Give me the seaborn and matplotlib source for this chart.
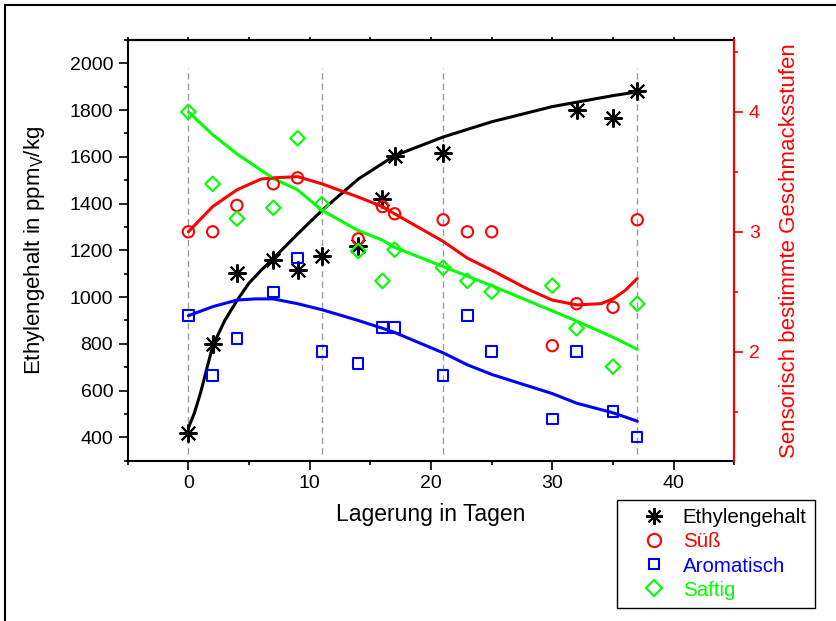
import matplotlib
matplotlib.use("Agg")
import matplotlib.pyplot as plt
from matplotlib.lines import Line2D
from matplotlib.ticker import MultipleLocator
import seaborn as sns

days_eth = [0, 2, 4, 7, 9, 11, 14, 16, 17, 21, 32, 35, 37]
ethylen = [420, 800, 1105, 1160, 1115, 1175, 1220, 1420, 1605, 1615, 1800, 1765, 1880]

days_suess = [0, 2, 4, 7, 9, 14, 16, 17, 21, 23, 25, 30, 32, 35, 37]
suess = [3.0, 3.0, 3.22, 3.40, 3.45, 2.94, 3.21, 3.15, 3.10, 3.0, 3.0, 2.05, 2.40, 2.37, 3.10]

days_arom = [0, 2, 4, 7, 9, 11, 14, 16, 17, 21, 23, 25, 30, 32, 35, 37]
arom = [2.30, 1.80, 2.11, 2.50, 2.78, 2.0, 1.90, 2.20, 2.20, 1.80, 2.30, 2.0, 1.44, 2.0, 1.50, 1.29]

days_saft = [0, 2, 4, 7, 9, 11, 14, 16, 17, 21, 23, 25, 30, 32, 35, 37]
saft = [4.0, 3.40, 3.11, 3.20, 3.78, 3.23, 2.84, 2.59, 2.85, 2.70, 2.59, 2.50, 2.55, 2.195, 1.875, 2.40]

# Ausgleichskurven
eth_fit_x = [0, 0.5, 1, 2, 3, 4, 5, 6, 7, 9, 11, 14, 17, 21, 25, 30, 35, 37]
eth_fit = [440, 505, 590, 790, 900, 985, 1060, 1115, 1165, 1270, 1370, 1505, 1605, 1685, 1750, 1815,
           1862, 1878]

suess_fit_x = [0, 2, 4, 6, 7, 9, 11, 14, 16, 17, 21, 23, 25, 28, 30, 32, 34, 35, 36, 37]
suess_fit = [3.0, 3.21, 3.35, 3.44, 3.45, 3.46, 3.40, 3.29, 3.21, 3.15, 2.92, 2.78, 2.68, 2.52,
             2.43, 2.39, 2.40, 2.44, 2.51, 2.61]

arom_fit_x = [0, 2, 4, 5.5, 7, 9, 11, 14, 16, 17, 21, 23, 25, 30, 32, 35, 37]
arom_fit = [2.30, 2.375, 2.43, 2.44, 2.44, 2.40, 2.35, 2.26, 2.195, 2.16, 1.99, 1.89, 1.81, 1.65,
            1.57, 1.49, 1.42]

saft_fit_x = [0, 2, 4, 7, 9, 11, 14, 16, 17, 21, 23, 25, 30, 32, 35, 37]
saft_fit = [4.0, 3.81, 3.65, 3.445, 3.35, 3.18, 3.01, 2.93, 2.87, 2.71, 2.63, 2.55, 2.34, 2.255, 2.12, 2.02]

vline_days = [0, 11, 21, 37]

labels = ['Ethylengehalt', 'Süß', 'Aromatisch', 'Saftig']
colors = ['black', 'red', 'blue', '#00ff00']

sns.set_style("ticks", rc={"axes.edgecolor": "black", "text.color": "black",
                           "axes.labelcolor": "black", "xtick.color": "black",
                           "ytick.color": "black"})
plt.rcParams['font.family'] = ['Liberation Sans', 'DejaVu Sans']
plt.rcParams['mathtext.fontset'] = 'custom'
plt.rcParams['mathtext.rm'] = 'Liberation Sans'
plt.rcParams['mathtext.it'] = 'Liberation Sans:italic'

fig = plt.figure(figsize=(8.37, 6.21), dpi=100)
ax = fig.add_axes([0.1526, 0.2581, 0.7247, 0.6775])
ax2 = ax.twinx()

ax.vlines(vline_days, 330, 1980, colors='#9a9a9a', linestyles=(0, (4.5, 3)), lw=1, zorder=1)

sns.lineplot(x=eth_fit_x, y=eth_fit, ax=ax, color='black', lw=2.2, estimator=None, sort=False)
sns.scatterplot(x=days_eth, y=ethylen, ax=ax, marker=(8, 2, 0), s=150, color='black',
                edgecolor='black', linewidth=1.5, zorder=3)

fits = [(suess_fit_x, suess_fit), (arom_fit_x, arom_fit), (saft_fit_x, saft_fit)]
pts = [(days_suess, suess, 'o', 66), (days_arom, arom, 's', 56), (days_saft, saft, 'D', 55)]
for (fx, fy), (px, py, m, s), c in zip(fits, pts, colors[1:]):
    sns.lineplot(x=fx, y=fy, ax=ax2, color=c, lw=2.2, estimator=None, sort=False)
    sns.scatterplot(x=px, y=py, ax=ax2, marker=m, s=s, facecolor='none', edgecolor=c,
                    linewidth=1.5, zorder=3)

ax.set_xlim(-5, 45)
ax.set_ylim(300, 2100)
ax2.set_ylim(1.09, 4.6)
ax.xaxis.set_major_locator(MultipleLocator(10))
ax.xaxis.set_minor_locator(MultipleLocator(5))
ax.yaxis.set_major_locator(MultipleLocator(200))
ax.yaxis.set_minor_locator(MultipleLocator(100))
ax2.yaxis.set_major_locator(MultipleLocator(1))
ax2.yaxis.set_minor_locator(MultipleLocator(0.5))

ax.tick_params(which='major', direction='out', length=6.5, width=1.2, labelsize=14, pad=4)
ax.tick_params(which='minor', direction='out', length=3, width=1.2)
ax2.tick_params(axis='y', which='major', direction='out', length=6.5, width=1.2, labelsize=14,
                pad=4, colors='red')
ax2.tick_params(axis='y', which='minor', direction='out', length=3, width=1.2, colors='red')

top = ax.secondary_xaxis('top')
top.xaxis.set_major_locator(MultipleLocator(10))
top.xaxis.set_minor_locator(MultipleLocator(5))
top.tick_params(which='both', direction='out', length=2.5, width=1.2, labeltop=False)
top.spines['top'].set_linewidth(1.5)

for sp in ax.spines.values():
    sp.set_linewidth(1.5)
for name, sp in ax2.spines.items():
    sp.set_linewidth(1.5)
    if name != 'right':
        sp.set_visible(False)
ax2.spines['right'].set_color('red')

ax.set_xlabel('Lagerung in Tagen', fontsize=16.5, labelpad=8)
ax.set_ylabel('Ethylengehalt in ppm$_\\mathrm{V}$/kg', fontsize=16, labelpad=16)
ax2.set_ylabel('Sensorisch bestimmte Geschmacksstufen', fontsize=16, color='red', labelpad=14)

handles = [
    Line2D([], [], ls='none', marker=(8, 2, 0), ms=12, mew=1.5, color='black'),
    Line2D([], [], ls='none', marker='o', ms=9.5, mew=1.5, mfc='none', mec='red'),
    Line2D([], [], ls='none', marker='s', ms=7.5, mew=1.5, mfc='none', mec='blue'),
    Line2D([], [], ls='none', marker='D', ms=8.5, mew=1.5, mfc='none', mec='#00ff00'),
]
leg = fig.legend(handles, labels, loc='upper left', bbox_to_anchor=(617 / 837, 1 - 500 / 621),
                 bbox_transform=fig.transFigure, borderaxespad=0, frameon=True, fancybox=False,
                 edgecolor='black', fontsize=14.8, labelcolor=colors, handlelength=2.8,
                 handletextpad=0.0, borderpad=0.4, labelspacing=0.25)
leg.get_frame().set_linewidth(1.0)
leg.get_frame().set_alpha(1)

# Rahmen oben und links
fig.add_artist(Line2D([4.7 / 837, 4.7 / 837], [0, 1 - 4.7 / 621], transform=fig.transFigure,
                      color='black', lw=1.5))
fig.add_artist(Line2D([4.7 / 837, 1], [1 - 4.7 / 621, 1 - 4.7 / 621], transform=fig.transFigure,
                      color='black', lw=1.5))

fig.savefig('out.png', dpi=100)
